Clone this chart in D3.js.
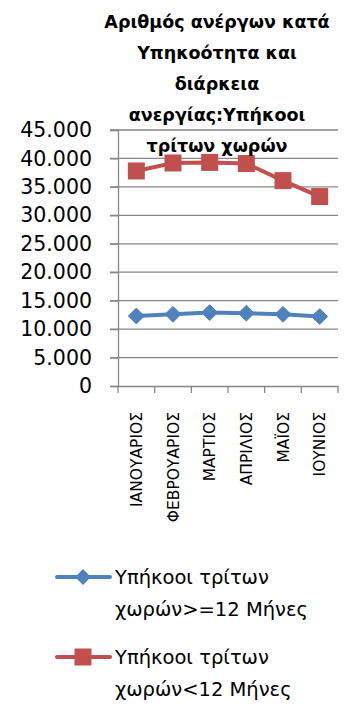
<!DOCTYPE html>
<html><head><meta charset="utf-8">
<script src="https://cdn.jsdelivr.net/npm/d3@7"></script>
<style>body{margin:0;background:#fff}svg{display:block}</style>
</head><body>
<script>
const categories = ["ΙΑΝΟΥΑΡΙΟΣ","ΦΕΒΡΟΥΑΡΙΟΣ","ΜΑΡΤΙΟΣ","ΑΠΡΙΛΙΟΣ","ΜΑΪΟΣ","ΙΟΥΝΙΟΣ"];
const seriesNames = ["Υπήκοοι τρίτων χωρών>=12 Μήνες","Υπήκοοι τρίτων χωρών<12 Μήνες"];
const longTerm = [12300, 12600, 12900, 12800, 12600, 12200];
const shortTerm = [37800, 39200, 39300, 39100, 36100, 33300];
const yTicks = [0,5000,10000,15000,20000,25000,30000,35000,40000,45000];
const titleLines = ["Αριθμός ανέργων κατά","Υπηκοότητα και","διάρκεια","ανεργίας:Υπήκοοι","τρίτων χωρών"];
const legendLines = [["Υπήκοοι τρίτων","χωρών>=12 Μήνες"],["Υπήκοοι τρίτων","χωρών<12 Μήνες"]];

(function(){
const W=353,H=709;
const svg=d3.select("body").append("svg").attr("width",W).attr("height",H);
const pL=118,pR=338,pT=130,pB=386;
const x=d3.scaleBand().domain(categories).range([pL,pR]);
const y=d3.scaleLinear().domain([0,45000]).range([pB,pT]);
const fmt=v=>d3.format(",")(v).replace(/,/g,".");
const grid="#878787";

svg.append("g").selectAll("line").data(yTicks.filter(d=>d>0)).join("line")
  .attr("x1",pL-8).attr("x2",pR).attr("y1",d=>y(d)).attr("y2",d=>y(d))
  .attr("stroke",grid).attr("stroke-width",1.3);

const ya=svg.append("g").attr("transform",`translate(${pL},0)`)
  .call(d3.axisLeft(y).tickValues(yTicks).tickFormat(fmt).tickSize(8).tickPadding(18));
ya.select(".domain").attr("stroke",grid).attr("stroke-width",1.3);
ya.selectAll(".tick line").attr("stroke",grid).attr("stroke-width",1.3);
ya.selectAll("text").attr("font-family","DejaVu Sans").attr("font-size",20.5).attr("fill","#000");

const xa=svg.append("g").attr("transform",`translate(0,${pB})`)
  .call(d3.axisBottom(x).tickSize(0).tickFormat(""));
xa.select(".domain").attr("stroke",grid).attr("stroke-width",1.3);
xa.selectAll(".tick").remove();
const bounds=categories.map(c=>x(c)).concat([pR]);
svg.append("g").selectAll("line").data(bounds).join("line")
  .attr("x1",d=>d).attr("x2",d=>d).attr("y1",pB).attr("y2",pB+7)
  .attr("stroke",grid).attr("stroke-width",1.3);
svg.append("g").selectAll("text").data(categories).join("text")
  .attr("transform",d=>`translate(${x(d)+x.bandwidth()/2+5.5},${pB+26}) rotate(-90)`)
  .attr("text-anchor","end").attr("font-family","DejaVu Sans").attr("font-size",15.5)
  .attr("fill","#000").text(d=>d);

const cx=d=>x(d)+x.bandwidth()/2;
const line=d3.line().x((d,i)=>cx(categories[i])).y(d=>y(d));
const blue="#4F81BD",red="#C0504D";

svg.append("path").datum(longTerm).attr("d",line).attr("fill","none").attr("stroke",blue).attr("stroke-width",4);
svg.append("path").datum(shortTerm).attr("d",line).attr("fill","none").attr("stroke",red).attr("stroke-width",4);
const diamond=d3.symbol().type(d3.symbolDiamond2).size(160);
svg.append("g").selectAll("path").data(longTerm).join("path")
  .attr("transform",(d,i)=>`translate(${cx(categories[i])},${y(d)})`)
  .attr("d",diamond()).attr("fill",blue).attr("stroke",blue).attr("stroke-width",1);
svg.append("g").selectAll("rect").data(shortTerm).join("rect")
  .attr("x",(d,i)=>cx(categories[i])-8.5).attr("y",d=>y(d)-8.5)
  .attr("width",17).attr("height",17).attr("fill",red);

svg.append("g").selectAll("text").data(titleLines).join("text")
  .attr("x",217).attr("y",(d,i)=>28+i*31).attr("text-anchor","middle")
  .attr("font-family","DejaVu Sans").attr("font-weight","bold").attr("font-size",17.5)
  .attr("fill","#000").text(d=>d);

const leg=svg.append("g");
const ly=[577,657], colors=[blue,red];
[0,1].forEach(k=>{
  leg.append("line").attr("x1",57).attr("x2",110).attr("y1",ly[k]).attr("y2",ly[k])
    .attr("stroke",colors[k]).attr("stroke-width",4).attr("stroke-linecap","round");
  if(k===0) leg.append("path").attr("transform",`translate(83,${ly[k]})`).attr("d",diamond()).attr("fill",blue);
  else leg.append("rect").attr("x",74.5).attr("y",ly[k]-8.5).attr("width",17).attr("height",17).attr("fill",red);
  legendLines[k].forEach((t,j)=>{
    leg.append("text").attr("x",115).attr("y",ly[k]+7+j*32).attr("font-family","DejaVu Sans")
      .attr("font-size",19.5).attr("fill","#000").text(t);
  });
});
})();
</script>
</body></html>
